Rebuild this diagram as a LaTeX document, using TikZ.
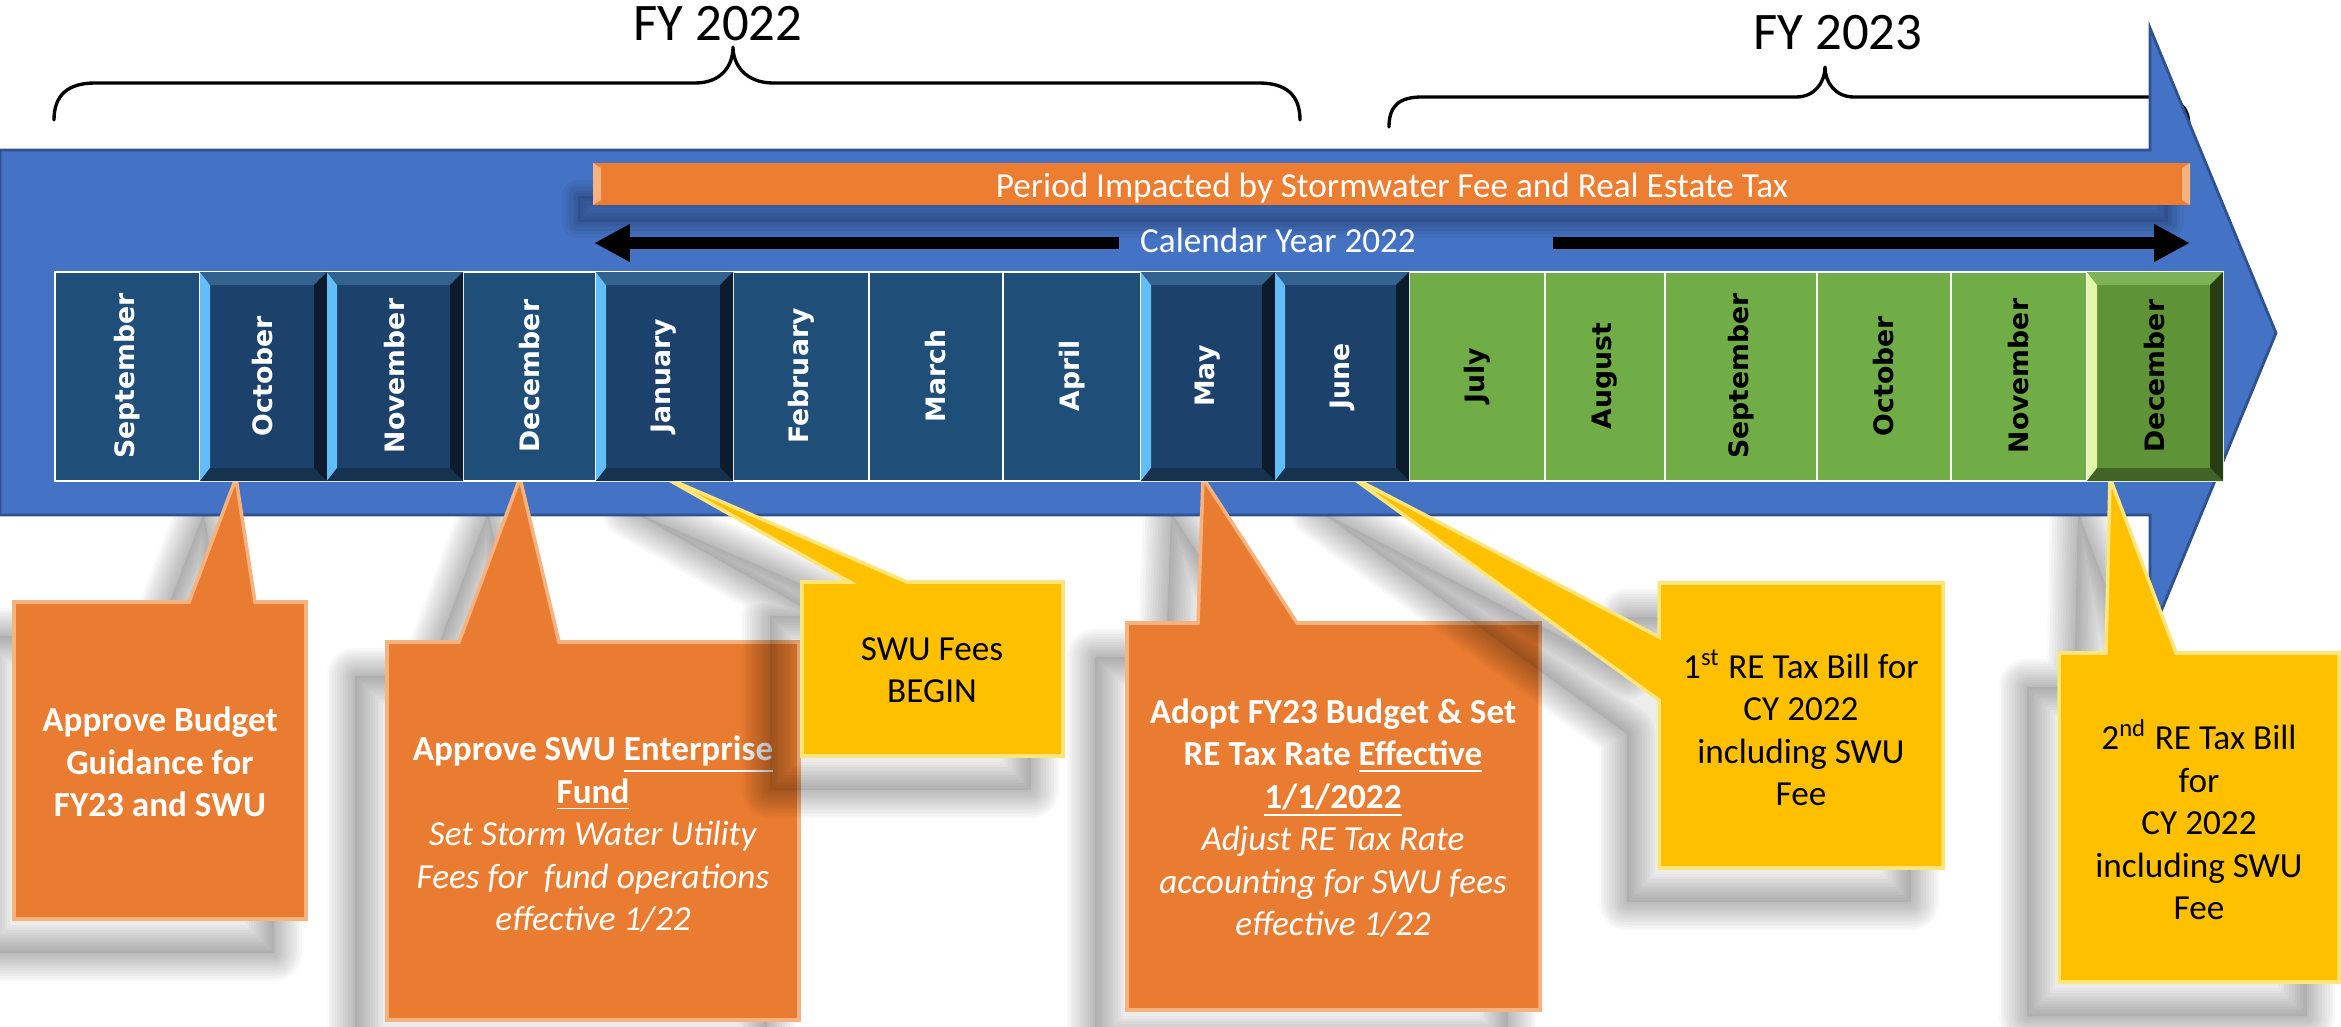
\documentclass[tikz,border=0pt]{standalone}
\usepackage{fontspec}
\setmainfont{Carlito}
\newfontfamily\monthfont{DejaVu Sans}
\usetikzlibrary{arrows.meta}
\definecolor{bandblue}{HTML}{4472C4}
\definecolor{bandedge}{HTML}{2F528F}
\definecolor{monthblue}{HTML}{1F4E79}
\definecolor{bevblue}{HTML}{1C416A}
\definecolor{bevlight}{HTML}{62BEFA}
\definecolor{bevtop}{HTML}{34628F}
\definecolor{bevdark}{HTML}{0D1C2C}
\definecolor{bevbot}{HTML}{15324F}
\definecolor{mgreen}{HTML}{70AD47}
\definecolor{dgreen}{HTML}{5E9338}
\definecolor{glight}{HTML}{E2F5A8}
\definecolor{gtop}{HTML}{7EB256}
\definecolor{gdark}{HTML}{263D16}
\definecolor{gbot}{HTML}{3F6426}
\definecolor{callorange}{HTML}{EA7C32}
\definecolor{orangeedge}{HTML}{F6B27F}
\definecolor{callyellow}{HTML}{FFC000}
\definecolor{yellowedge}{HTML}{FFE57A}
\definecolor{barorange}{HTML}{ED7D31}
\def\bandpath{(0,150) -- (2150,150) -- (2150,28) -- (2276,333) -- (2150,638) -- (2150,515) -- (0,515) -- cycle}
\newcommand\calloutshape[3]{%
  \begin{scope}
    \clip (0,516) rectangle (2341,1027);
    \begin{scope}[shift={(-32,34)}]
      \foreach \w in {16,14.5,13,11.5,10,8.5,7,5.5,4,2.5,1}{\draw[black,opacity=0.026,line width=\w pt,line join=round] #1;}
      \fill[black,opacity=0.07] #1;
    \end{scope}
  \end{scope}
  \filldraw[fill=#2,draw=#3,line width=1pt,line join=miter] #1;
}
\newcommand\bevmonth[7]{%
  \fill[#3] (#1,272) rectangle (#2,481);
  \fill[#4] (#1,272) -- (#1+10,284) -- (#1+10,469) -- (#1,481) -- cycle;
  \fill[#5] (#1,272) -- (#2,272) -- (#2-13,285) -- (#1+10,285) -- cycle;
  \fill[#6] (#2,272) -- (#2,481) -- (#2-13,468) -- (#2-13,285) -- cycle;
  \fill[#7] (#1,481) -- (#1+10,468) -- (#2-13,468) -- (#2,481) -- cycle;
}
\begin{document}
\begin{tikzpicture}[x=0.01cm,y=-0.01cm,
  fylabel/.style={font=\fontsize{15}{18}\selectfont,anchor=base,inner sep=0pt},
  brace/.style={line width=0.95pt,line cap=round,line join=round},
  barlabel/.style={font=\fontsize{10}{12}\selectfont,text=white,anchor=base,inner sep=0pt},
  monthtxt/.style={font=\monthfont\bfseries\fontsize{7.6}{9}\selectfont,rotate=90,inner sep=0pt},
  calltxt/.style={font=\fontsize{10}{12.1}\selectfont,align=center,inner sep=0pt},
  calltxtb/.style={font=\fontsize{10}{12.1}\selectfont\bfseries,align=center,inner sep=0pt},
  sep/.style={white,line width=0.7pt}]
\useasboundingbox (0,0) rectangle (2341,1027);

% fiscal year braces
\node[fylabel] (fy22) at (718,41) {FY 2022};
\node[fylabel] (fy23) at (1838,50) {FY 2023};
\draw[brace] (54,120) .. controls (54,95) and (68,83) .. (95,83) -- (695,83)
  .. controls (722,83) and (733,65) .. (733,47)
  .. controls (733,65) and (746,83) .. (773,83) -- (1259,83)
  .. controls (1286,83) and (1300,95) .. (1300,120);
\draw[brace] (1389,127) .. controls (1389,105) and (1400,97) .. (1422,97) -- (1796,97)
  .. controls (1815,97) and (1825,82) .. (1825,67)
  .. controls (1825,82) and (1835,97) .. (1854,97) -- (2155,97)
  .. controls (2177,97) and (2189,105) .. (2189,127);

% big blue arrow
\fill[bandblue] \bandpath;
\draw[bandedge,line width=0.8pt] \bandpath;

% shadow of the orange bar
\begin{scope}
  \clip \bandpath;
  \foreach \w in {9,7,5,3,1.5}{\draw[black,opacity=0.045,line width=\w pt,line join=round] (578,196) rectangle (2168,222);}
  \fill[black,opacity=0.1] (578,196) rectangle (2168,222);
\end{scope}

% period bar
\fill[barorange] (593,163) rectangle (2190,205);
\fill[orangeedge] (593,163) -- (601,168) -- (601,200) -- (593,205) -- cycle;
\fill[orangeedge] (2190,163) -- (2182,168) -- (2182,200) -- (2190,205) -- cycle;
\node[barlabel] (period) at (1392,197) {Period Impacted by Stormwater Fee and Real Estate Tax};

% calendar year arrow
\node[barlabel] (cy) at (1278,252) {Calendar Year 2022};
\coordinate (cyLtip) at (594,243);
\coordinate (cyLend) at (1119,243);
\coordinate (cyRstart) at (1553,243);
\coordinate (cyRtip) at (2190,243);
\draw[line width=3.4pt,-{Triangle[length=10.2pt,width=10pt]}] (cyLend) -- (cyLtip);
\draw[line width=3.4pt,-{Triangle[length=10.2pt,width=10pt]}] (cyRstart) -- (cyRtip);

% callouts
\calloutshape{(14,602) -- (189,602) -- (236,478) -- (255,602) -- (306,602) -- (306,919) -- (14,919) -- cycle}{callorange}{orangeedge}
\node[calltxtb,text=white] (ca) at (160,762) {Approve Budget\\Guidance for\\FY23 and SWU};

\calloutshape{(387,642) -- (459,642) -- (520,478) -- (559,642) -- (799,642) -- (799,1020) -- (387,1020) -- cycle}{callorange}{orangeedge}
\node[calltxt,text=white] (cb) at (593,834) {\textbf{Approve SWU \underline{Enterprise}}\\\textbf{\underline{Fund}}\\\textit{Set Storm Water Utility}\\\textit{Fees for\ \ fund operations}\\\textit{effective 1/22}};

\calloutshape{(802,582) -- (850,582) -- (662,476) -- (907,582) -- (1063,582) -- (1063,756) -- (802,756) -- cycle}{callyellow}{yellowedge}
\node[calltxt,text=black] (cc) at (932,670) {SWU Fees\\BEGIN};

\calloutshape{(1127,623) -- (1198,623) -- (1203,478) -- (1297,623) -- (1540,623) -- (1540,1010) -- (1127,1010) -- cycle}{callorange}{orangeedge}
\node[calltxt,text=white] (cd) at (1333,818) {\textbf{Adopt FY23 Budget \& Set}\\\textbf{RE Tax Rate \underline{Effective}}\\\textbf{\underline{1/1/2022}}\\\textit{Adjust RE Tax Rate}\\\textit{accounting for SWU fees}\\\textit{effective 1/22}};

\calloutshape{(1659,583) -- (1943,583) -- (1943,868) -- (1659,868) -- (1659,700) -- (1350,476) -- (1659,637) -- cycle}{callyellow}{yellowedge}
\node[calltxt,text=black] (ce) at (1801,728) {1\textsuperscript{st} RE Tax Bill for\\CY 2022\\including SWU\\Fee};

\calloutshape{(2059,653) -- (2106,653) -- (2110,478) -- (2176,653) -- (2339,653) -- (2339,982) -- (2059,982) -- cycle}{callyellow}{yellowedge}
\node[calltxt,text=black] (cf) at (2199,820) {2\textsuperscript{nd} RE Tax Bill\\for\\CY 2022\\including SWU\\Fee};

% month strip
\fill[monthblue] (55,272) rectangle (1409,481);
\fill[mgreen] (1409,272) rectangle (2223,481);
\draw[sep] (55,272) rectangle (2223,481);
\foreach \xx in {200,327,463,596,733,869,1003,1141,1275,1409,1545,1665,1817,1951,2087}{\draw[sep] (\xx,272) -- (\xx,481);}
\bevmonth{200}{327}{bevblue}{bevlight}{bevtop}{bevdark}{bevbot}
\bevmonth{327}{463}{bevblue}{bevlight}{bevtop}{bevdark}{bevbot}
\bevmonth{596}{733}{bevblue}{bevlight}{bevtop}{bevdark}{bevbot}
\bevmonth{1141}{1275}{bevblue}{bevlight}{bevtop}{bevdark}{bevbot}
\bevmonth{1275}{1409}{bevblue}{bevlight}{bevtop}{bevdark}{bevbot}
\bevmonth{2087}{2223}{dgreen}{glight}{gtop}{gdark}{gbot}

\node[monthtxt,text=white] (m1) at (127,376) {September};
\node[monthtxt,text=white] (m2) at (263,376) {October};
\node[monthtxt,text=white] (m3) at (395,376) {November};
\node[monthtxt,text=white] (m4) at (530,376) {December};
\node[monthtxt,text=white] (m5) at (664,376) {January};
\node[monthtxt,text=white] (m6) at (801,376) {February};
\node[monthtxt,text=white] (m7) at (936,376) {March};
\node[monthtxt,text=white] (m8) at (1072,376) {April};
\node[monthtxt,text=white] (m9) at (1208,376) {May};
\node[monthtxt,text=white] (m10) at (1342,376) {June};
\node[monthtxt,text=black] (m11) at (1477,376) {July};
\node[monthtxt,text=black] (m12) at (1605,376) {August};
\node[monthtxt,text=black] (m13) at (1741,376) {September};
\node[monthtxt,text=black] (m14) at (1884,376) {October};
\node[monthtxt,text=black] (m15) at (2019,376) {November};
\node[monthtxt,text=black] (m16) at (2155,376) {December};
\end{tikzpicture}
\end{document}
